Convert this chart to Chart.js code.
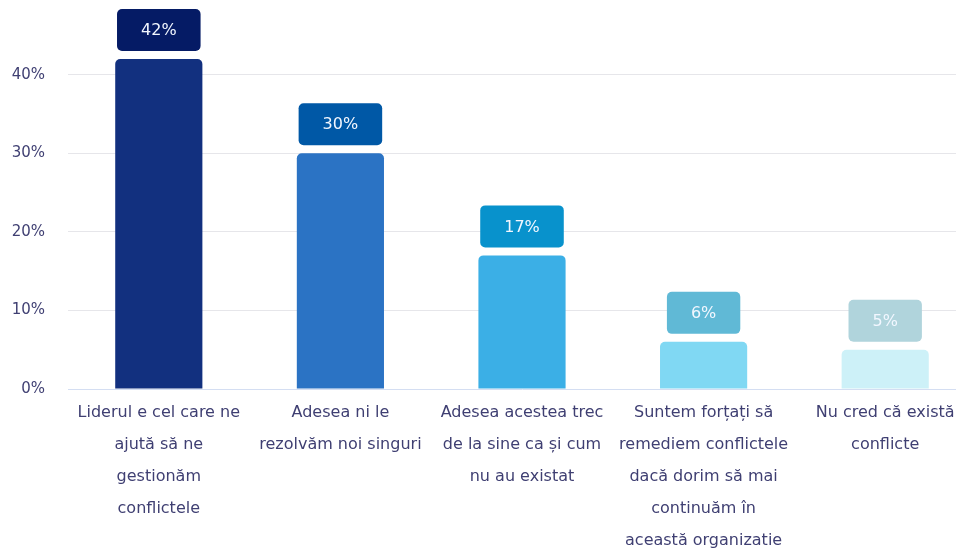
<!DOCTYPE html>
<html>
<head>
<meta charset="utf-8">
<script src="https://cdn.jsdelivr.net/npm/chart.js@4"></script>
<style>
  html, body { margin: 0; padding: 0; background: #fff; overflow: hidden; }
  #wrap { width: 980px; height: 550px; }
</style>
</head>
<body>
<div id="wrap"><canvas id="conflicts-chart" width="980" height="550"></canvas></div>
<script>
const categories = [
    ["Liderul e cel care ne", "ajută să ne", "gestionăm", "conflictele"],
    ["Adesea ni le", "rezolvăm noi singuri"],
    ["Adesea acestea trec", "de la sine ca și cum", "nu au existat"],
    ["Suntem forțați să", "remediem conflictele", "dacă dorim să mai", "continuăm în", "această organizatie"],
    ["Nu cred că există", "conflicte"]
];
const values = [42, 30, 17, 6, 5];
const yTicks = [0, 10, 20, 30, 40];

const barColors = ["#12307f", "#2b73c4", "#3bafe6", "#80d8f3", "#cdf1f8"];
const badgeColors = ["#051b65", "#0058a6", "#0892cc", "#60b9d6", "#b0d4dc"];

const textColor = "#3f3f72";
const fontFamily = '"DejaVu Sans", sans-serif';

// rounded boxes with the value, drawn just above each bar
const valueBadges = {
    id: 'valueBadges',
    afterDatasetsDraw(chart) {
        const ctx = chart.ctx;
        const meta = chart.getDatasetMeta(0);
        ctx.save();
        ctx.font = '16px ' + fontFamily;
        ctx.textAlign = 'center';
        ctx.textBaseline = 'middle';
        meta.data.forEach((bar, i) => {
            const text = values[i] + '%';
            const w = ctx.measureText(text).width + 48;
            const h = 42;
            const x = bar.x - w / 2;
            const y = bar.y - 8 - h;
            ctx.fillStyle = badgeColors[i];
            ctx.beginPath();
            ctx.roundRect(x, y, w, h, 5);
            ctx.fill();
            ctx.fillStyle = "#f2f7ff";
            ctx.fillText(text, bar.x, y + h / 2 + 1);
        });
        ctx.restore();
    }
};

const chartOptions = {
    type: 'bar',
    data: {
        labels: categories,
        datasets: [{
            data: values,
            backgroundColor: barColors,
            borderRadius: 5,
            barPercentage: 0.6,
            categoryPercentage: 0.8
        }]
    },
    options: {
        responsive: false,
        animation: false,
        layout: { padding: { top: 0, right: 4, bottom: 0, left: 0 } },
        plugins: {
            legend: { display: false },
            tooltip: { enabled: false }
        },
        scales: {
            x: {
                grid: { display: false },
                border: { display: true, color: "#d4def2", width: 1 },
                ticks: {
                    color: textColor,
                    font: { family: fontFamily, size: 16, lineHeight: 2.0 },
                    padding: 0,
                    maxRotation: 0,
                    autoSkip: false
                },
                afterFit: (scale) => { scale.height = 161; scale.paddingTop = 0; }
            },
            y: {
                min: 0,
                max: 49.5,
                border: { display: false },
                grid: {
                    color: (c) => c.tick && c.tick.value === 0 ? "rgba(0,0,0,0)" : "#e6e6ea",
                    drawTicks: false
                },
                ticks: {
                    stepSize: 10,
                    color: textColor,
                    padding: 23,
                    font: { family: fontFamily, size: 15 },
                    callback: (v) => v + '%'
                },
                afterBuildTicks: (scale) => {
                    scale.ticks = yTicks.map(v => ({ value: v }));
                },
                afterFit: (scale) => { scale.width = 68; scale.paddingTop = 0; }
            }
        }
    },
    plugins: [valueBadges]
};

const ctx = document.getElementById('conflicts-chart').getContext('2d');
const conflictsChart = new Chart(ctx, chartOptions);
</script>
</body>
</html>
